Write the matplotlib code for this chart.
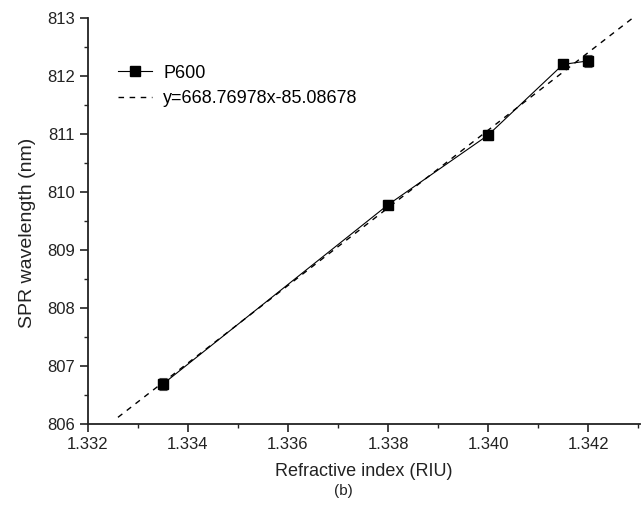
import numpy as np
from matplotlib import pyplot as plt
from matplotlib.ticker import MultipleLocator

plt.rcParams['font.family'] = ['Liberation Sans', 'DejaVu Sans']

# data
ri = [1.3335, 1.338, 1.340, 1.3415, 1.342]
wl = [806.69, 809.78, 810.98, 812.20, 812.26]
err = [0.10, 0.08, 0.09, 0.07, 0.10]
slope = 668.76978
icpt = -85.08678
fit_x = [1.3326, 1.3431]
fit_label = 'y=668.76978x-85.08678'

s = 13
fig = plt.figure(figsize=(6.42, 5.14), dpi=100)
ax = fig.add_axes([0.137, 0.175, 0.86, 0.79])

xf = np.array(fit_x)
ax.errorbar(ri, wl, yerr=err, fmt='none', capsize=3, elinewidth=0.8, capthick=0.8,
            ecolor='#555555')
ax.plot(ri, wl, '-s', color='black', markersize=7, linewidth=0.8, label='P600')
ax.plot(xf, slope * xf + icpt, '--', color='black', linewidth=1.0, dashes=(4, 4),
        label=fit_label)

ax.set_xlim(1.332, 1.34304)
ax.set_ylim(806, 813)
ax.xaxis.set_major_locator(MultipleLocator(0.002))
ax.xaxis.set_minor_locator(MultipleLocator(0.001))
ax.yaxis.set_major_locator(MultipleLocator(1))
ax.yaxis.set_minor_locator(MultipleLocator(0.5))
ax.xaxis.set_major_formatter(plt.FuncFormatter(lambda v, p: '%.3f' % v))

for side in ['top', 'right']:
    ax.spines[side].set_visible(False)
for side in ['left', 'bottom']:
    ax.spines[side].set_linewidth(1.3)
    ax.spines[side].set_color('#222222')
ax.tick_params(axis='both', which='major', direction='out', length=6, width=1.2,
               labelsize=s - 1, colors='#222222')
ax.tick_params(axis='both', which='minor', direction='out', length=3, width=1.0,
               colors='#222222')

ax.set_xlabel('Refractive index (RIU)', size=s, color='#222222', labelpad=8)
ax.set_ylabel('SPR wavelength (nm)', size=s + 1, color='#222222')
ax.yaxis.set_label_coords(-0.095, 0.47)
fig.text(0.535, 0.037, '(b)', ha='center', size=s - 2, color='#222222')

ax.legend(loc='upper left', bbox_to_anchor=(0.025, 0.925), frameon=False, fontsize=s,
          handlelength=1.9, handletextpad=0.6, labelspacing=0.45)

plt.savefig('out.png', dpi=100)
